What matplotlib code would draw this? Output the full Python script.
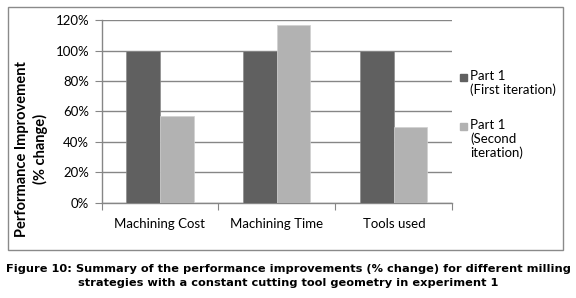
import matplotlib.pyplot as plt
import numpy as np
from matplotlib.patches import Rectangle

# data
categories = ['Machining Cost', 'Machining Time', 'Tools used']
first_iter = [100, 100, 100]
second_iter = [57, 117, 50]
series_labels = ['Part 1\n(First iteration)', 'Part 1\n(Second\niteration)']
colors = ['#606060', '#b2b2b2']

W, H = 576, 298
fig = plt.figure(figsize=(W / 100, H / 100), dpi=100)
ax = fig.add_axes([101.5 / W, 1 - 202.7 / H, 350.8 / W, 182.4 / H])

x = np.arange(len(categories))
bw = 0.287
ax.bar(x - bw / 2, first_iter, bw, color=colors[0], edgecolor='#8c8c8c', linewidth=0.5, zorder=3)
ax.bar(x + bw / 2, second_iter, bw, color=colors[1], edgecolor='#d0d0d0', linewidth=0.5, zorder=3)

ax.set_xlim(-0.5, len(categories) - 0.5)
ax.set_ylim(0, 120)
ax.set_yticks(np.arange(0, 121, 20))
ax.set_yticklabels([f'{v}%' for v in range(0, 121, 20)], fontfamily='Lato', fontsize=9.5)
ax.yaxis.grid(True, color='#868686', linewidth=1, zorder=0)
ax.tick_params(axis='y', length=5, color='#868686', pad=4)

# ticks between categories, labels at centres
ax.set_xticks(np.arange(-0.5, len(categories), 1))
ax.set_xticklabels([])
ax.tick_params(axis='x', which='major', length=5, color='#868686', direction='out')
ax.set_xticks(x, minor=True)
ax.set_xticklabels(categories, minor=True, fontfamily='Lato', fontsize=9.5)
ax.tick_params(axis='x', which='minor', length=0, pad=11)

for s in ['top', 'right']:
    ax.spines[s].set_visible(False)
for s in ['left', 'bottom']:
    ax.spines[s].set_color('#868686')
    ax.spines[s].set_linewidth(1)

fig.text(31.5 / W, 1 - 149 / H, 'Performance Improvement\n(% change)', rotation=90,
         ha='center', va='center', multialignment='center', fontfamily='Lato',
         fontweight='bold', fontsize=10.5, linespacing=1.25)

# legend drawn by hand, Excel style (square next to first line)
leg_y = [77, 126]
for lab, col, yy in zip(series_labels, colors, leg_y):
    fig.add_artist(Rectangle((460 / W, 1 - (yy + 3.5) / H), 7 / W, 7 / H,
                             transform=fig.transFigure, color=col))
    fig.text(470 / W, 1 - (yy - 7) / H, lab, ha='left', va='top', fontfamily='Lato',
             fontsize=9.5, linespacing=1.15)

# chart frame
fig.add_artist(Rectangle((8 / W, 1 - 250 / H), 555 / W, 243 / H, transform=fig.transFigure,
                         fill=False, edgecolor='#8a8a8a', linewidth=1))

fig.text(0.5, 1 - 269 / H, 'Figure 10: Summary of the performance improvements (% change) for different milling',
         ha='center', va='center', fontweight='bold', fontsize=8.2)
fig.text(0.5, 1 - 283 / H, 'strategies with a constant cutting tool geometry in experiment 1',
         ha='center', va='center', fontweight='bold', fontsize=8.2)

fig.savefig('out.png', dpi=100)
